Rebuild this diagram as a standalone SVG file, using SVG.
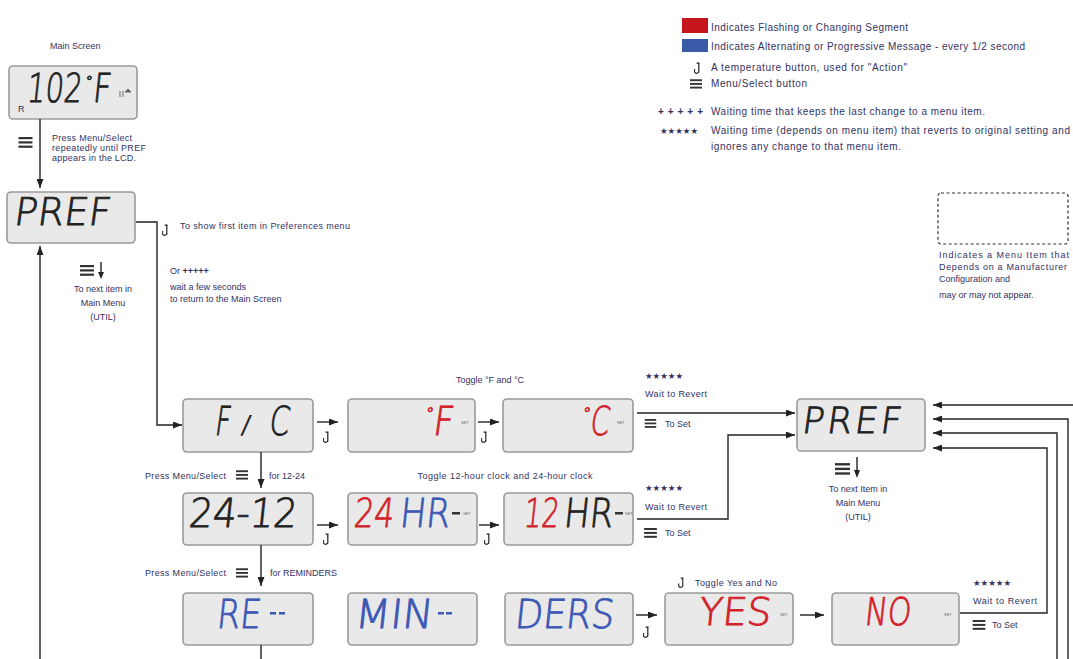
<svg xmlns="http://www.w3.org/2000/svg" width="1073" height="659" viewBox="0 0 1073 659">
<style>
.lcd{fill:#e9e9ea;stroke:#9a9a9a;stroke-width:1.6}
.sg{font-family:"DejaVu Sans",sans-serif;font-weight:200;stroke-width:0.9}
.k{fill:#222;stroke:#222}.r{fill:#d3232a;stroke:#d3232a}.b{fill:#3c58b5;stroke:#3c58b5}
.lb{font-family:"Liberation Sans",Arial,sans-serif;font-size:9px;fill:#33325f}
.lg{font-family:"Liberation Sans",Arial,sans-serif;font-size:10px;fill:#33325f}
.st{font-family:"DejaVu Sans",sans-serif;font-size:8.5px;fill:#33325f}
.ln{fill:none;stroke:#222;stroke-width:1.4}
.ar{marker-end:url(#ah)}
.tiny{font-family:"Liberation Sans",Arial,sans-serif;font-size:4px;fill:#666}
</style>
<defs>
<marker id="ah" markerUnits="userSpaceOnUse" markerWidth="9" markerHeight="7" refX="9" refY="3.5" orient="auto"><path d="M0,0 L9,3.5 L0,7 z" fill="#222"/></marker>
<symbol id="tb" viewBox="0 0 8 12"><path d="M2.6 1.2 H5.6 M4.8 1.2 V8.3 A2.3 2.3 0 1 1 1.1 7.2" fill="none" stroke="#222" stroke-width="1.2"/></symbol>
<symbol id="mn" viewBox="0 0 14 11"><rect x="0" y="0" width="14" height="2.2" fill="#333"/><rect x="0" y="4.3" width="14" height="2.2" fill="#333"/><rect x="0" y="8.6" width="14" height="2.2" fill="#333"/></symbol>
</defs>
<rect width="1073" height="659" fill="#fff"/>

<g id="legend">
<rect x="682" y="18" width="26" height="15" fill="#c4161c"/>
<text class="lg" x="711" y="31" textLength="197">Indicates Flashing or Changing Segment</text>
<rect x="682" y="39" width="26" height="13" fill="#3a5ba8"/>
<text class="lg" x="711" y="50" textLength="314">Indicates Alternating or Progressive Message - every 1/2 second</text>
<use href="#tb" x="694" y="62" width="8" height="12"/>
<text class="lg" x="711" y="71" textLength="196">A temperature button, used for "Action"</text>
<use href="#mn" x="690" y="79" width="12" height="10"/>
<text class="lg" x="711" y="87" textLength="96">Menu/Select button</text>
<text class="lg" x="658" y="115" font-weight="bold" textLength="45">+++++</text>
<text class="lg" x="711" y="115" textLength="274">Waiting time that keeps the last change to a menu item.</text>
<text class="st" x="660" y="134" font-size="9">★★★★★</text>
<text class="lg" x="711" y="134" textLength="359">Waiting time (depends on menu item) that reverts to original setting and</text>
<text class="lg" x="711" y="150" textLength="190">ignores any change to that menu item.</text>
</g>

<g id="optional-legend">
<rect x="938" y="193" width="130" height="51" rx="3" fill="none" stroke="#333" stroke-width="1.2" stroke-dasharray="3,2.5"/>
<text class="lb" x="939" y="258" textLength="130">Indicates a Menu Item that</text>
<text class="lb" x="939" y="270" textLength="128">Depends on a Manufacturer</text>
<text class="lb" x="939" y="282">Configuration and</text>
<text class="lb" x="939" y="298">may or may not appear.</text>
</g>

<g id="main-screen">
<text class="lb" x="50" y="49" font-size="8">Main Screen</text>
<rect class="lcd" x="9" y="66" width="128" height="53" rx="4"/>
<text class="sg k" transform="translate(26,102) skewX(-6)" font-size="40" textLength="55" lengthAdjust="spacingAndGlyphs">102</text>
<text class="sg k" transform="translate(85,86) skewX(-6)" font-size="14">°</text>
<text class="sg k" transform="translate(92,102) skewX(-6)" font-size="40" textLength="18" lengthAdjust="spacingAndGlyphs">F</text>
<text class="lb" x="18" y="112" font-size="6" fill="#333">R</text>
<path d="M120 91 v6 M123 91 v6 M125 92 l3 -3 l3 3 z" stroke="#666" stroke-width="1" fill="#666"/>
<use href="#mn" x="18" y="137" width="15" height="11"/>
<text class="lb" x="52" y="141" textLength="80">Press Menu/Select</text>
<text class="lb" x="52" y="151" textLength="94">repeatedly until PREF</text>
<text class="lb" x="52" y="161" textLength="84">appears in the LCD.</text>
</g>

<g id="pref-main">
<rect class="lcd" x="7" y="192" width="128" height="51" rx="4"/>
<text class="sg k" transform="translate(13,225) skewX(-8)" font-size="38" textLength="96" lengthAdjust="spacing">PREF</text>
<use href="#tb" x="162" y="224" width="8" height="12"/>
<text class="lb" x="180" y="229" textLength="170">To show first item in Preferences menu</text>
<text class="lb" x="170" y="274">Or <tspan font-weight="bold">+++++</tspan></text>
<text class="lb" x="170" y="290">wait  a few seconds</text>
<text class="lb" x="170" y="302">to return to the Main Screen</text>
<use href="#mn" x="80" y="265" width="14" height="11"/>
<path d="M101 262 V276" class="ln" stroke-width="1.2"/>
<path d="M98 272 L101 279 L104 272 z" fill="#222"/>
<text class="lb" x="103" y="292" text-anchor="middle">To next item in</text>
<text class="lb" x="103" y="306" text-anchor="middle">Main Menu</text>
<text class="lb" x="103" y="320" text-anchor="middle">(UTIL)</text>
</g>

<g id="fc">
<rect class="lcd" x="183" y="399" width="130" height="53" rx="4"/>
<text class="sg k" transform="translate(214,435) skewX(-8)" font-size="40" textLength="15" lengthAdjust="spacingAndGlyphs">F</text>
<text class="sg k" transform="translate(241,433) skewX(-8)" font-size="24">/</text>
<text class="sg k" transform="translate(268,435) skewX(-8)" font-size="40" textLength="20" lengthAdjust="spacingAndGlyphs">C</text>
</g>
<g id="deg-f">
<text class="lb" x="490" y="383" text-anchor="middle">Toggle °F and °C</text>
<rect class="lcd" x="348" y="399" width="127" height="53" rx="4"/>
<text class="sg r" transform="translate(425,419) skewX(-8)" font-size="16">°</text>
<text class="sg r" transform="translate(432,435) skewX(-8)" font-size="40" textLength="20" lengthAdjust="spacingAndGlyphs">F</text>
<text class="tiny" x="461" y="424">SET</text>
</g>
<g id="deg-c">
<rect class="lcd" x="503" y="399" width="130" height="53" rx="4"/>
<text class="sg r" transform="translate(582,419) skewX(-8)" font-size="16">°</text>
<text class="sg r" transform="translate(589,435) skewX(-8)" font-size="40" textLength="19" lengthAdjust="spacingAndGlyphs">C</text>
<text class="tiny" x="617" y="424">SET</text>
</g>
<g id="fc-notes">
<text class="st" x="645" y="379">★★★★★</text>
<text class="lb" x="645" y="397" textLength="62">Wait to Revert</text>
<use href="#mn" x="643" y="419" width="15" height="9"/>
<text class="lb" x="665" y="427">To Set</text>
</g>

<g id="pref-sub">
<rect class="lcd" x="797" y="399" width="128" height="52" rx="4"/>
<text class="sg k" transform="translate(801,433) skewX(-8)" font-size="36" textLength="99" lengthAdjust="spacing">PREF</text>
<use href="#mn" x="835" y="463" width="15" height="12"/>
<path d="M857 457 V472" class="ln" stroke-width="1.2"/>
<path d="M854 470 L857 478 L860 470 z" fill="#222"/>
<text class="lb" x="858" y="492" text-anchor="middle">To next Item in</text>
<text class="lb" x="858" y="506" text-anchor="middle">Main Menu</text>
<text class="lb" x="858" y="520" text-anchor="middle">(UTIL)</text>
</g>

<g id="row2-label">
<text class="lb" x="145" y="479" font-size="8" textLength="81">Press Menu/Select</text>
<use href="#mn" x="236" y="470" width="12" height="10"/>
<text class="lb" x="269" y="479" font-size="8">for 12-24</text>
<text class="lb" x="505" y="479" text-anchor="middle" textLength="175">Toggle 12-hour clock and 24-hour clock</text>
</g>
<g id="t2412">
<rect class="lcd" x="183" y="493" width="130" height="52" rx="4"/>
<text class="sg k" transform="translate(188,527) skewX(-6)" font-size="40" textLength="108" lengthAdjust="spacingAndGlyphs">24-12</text>
</g>
<g id="t24hr">
<rect class="lcd" x="348" y="493" width="129" height="52" rx="4"/>
<text class="sg r" transform="translate(353,527) skewX(-6)" font-size="40" textLength="40" lengthAdjust="spacingAndGlyphs">24</text>
<text class="sg b" transform="translate(399,527) skewX(-6)" font-size="40" textLength="50" lengthAdjust="spacingAndGlyphs">HR</text>
<rect x="452" y="512" width="8" height="2.5" fill="#333"/>
<text class="tiny" x="463" y="515">SET</text>
</g>
<g id="t12hr">
<rect class="lcd" x="504" y="493" width="129" height="52" rx="4"/>
<text class="sg r" transform="translate(523,527) skewX(-6)" font-size="40" textLength="35" lengthAdjust="spacingAndGlyphs">12</text>
<text class="sg k" transform="translate(563,527) skewX(-6)" font-size="40" textLength="49" lengthAdjust="spacingAndGlyphs">HR</text>
<rect x="615" y="512" width="8" height="2.5" fill="#333"/>
<text class="tiny" x="625" y="515">SET</text>
</g>
<g id="row2-notes">
<text class="st" x="645" y="491">★★★★★</text>
<text class="lb" x="645" y="510" textLength="62">Wait to Revert</text>
<use href="#mn" x="643" y="528" width="15" height="10"/>
<text class="lb" x="665" y="536">To Set</text>
</g>

<g id="row3-label">
<text class="lb" x="145" y="576" font-size="8" textLength="81">Press Menu/Select</text>
<use href="#mn" x="236" y="568" width="12" height="10"/>
<text class="lb" x="270" y="576" font-size="8">for REMINDERS</text>
</g>
<g id="re">
<rect class="lcd" x="183" y="593" width="130" height="52" rx="4"/>
<text class="sg b" transform="translate(216,628) skewX(-6)" font-size="40" textLength="44" lengthAdjust="spacingAndGlyphs">RE</text>
<rect x="270" y="612" width="6" height="2.5" fill="#3c58b5"/>
<rect x="279" y="612" width="6" height="2.5" fill="#3c58b5"/>
</g>
<g id="min">
<rect class="lcd" x="348" y="593" width="129" height="52" rx="4"/>
<text class="sg b" transform="translate(354,628) skewX(-6)" font-size="40" textLength="78" lengthAdjust="spacingAndGlyphs">MIN</text>
<rect x="438" y="612" width="6" height="2.5" fill="#3c58b5"/>
<rect x="446" y="612" width="6" height="2.5" fill="#3c58b5"/>
</g>
<g id="ders">
<rect class="lcd" x="505" y="593" width="128" height="52" rx="4"/>
<text class="sg b" transform="translate(514,628) skewX(-6)" font-size="40" textLength="99" lengthAdjust="spacingAndGlyphs">DERS</text>
</g>
<g id="yes">
<use href="#tb" x="678" y="577" width="8" height="11"/>
<text class="lb" x="695" y="586" font-size="8" textLength="82">Toggle Yes and No</text>
<rect class="lcd" x="665" y="593" width="128" height="52" rx="4"/>
<text class="sg r" transform="translate(698,625) skewX(-6)" font-size="38" textLength="72" lengthAdjust="spacingAndGlyphs">YES</text>
<text class="tiny" x="780" y="616">SET</text>
</g>
<g id="no">
<rect class="lcd" x="832" y="593" width="127" height="52" rx="4"/>
<text class="sg r" transform="translate(864,625) skewX(-6)" font-size="38" textLength="46" lengthAdjust="spacingAndGlyphs">NO</text>
<text class="tiny" x="944" y="616">SET</text>
</g>
<g id="row3-notes">
<text class="st" x="973" y="586">★★★★★</text>
<text class="lb" x="973" y="604" textLength="64">Wait to Revert</text>
<use href="#mn" x="972" y="620" width="14" height="10"/>
<text class="lb" x="992" y="628">To Set</text>
</g>

<g id="connectors">
<path class="ln ar" d="M40 119 V188"/>
<path class="ln ar" d="M40 659 V246"/>
<path class="ln ar" d="M136 222 H157 V425 H182"/>
<path class="ln ar" d="M317 422 H338"/>
<use href="#tb" x="323" y="431" width="8" height="12"/>
<path class="ln ar" d="M478 422 H499"/>
<use href="#tb" x="481" y="431" width="8" height="12"/>
<path class="ln ar" d="M637 413 H795"/>
<path class="ln ar" d="M261 452 V488"/>
<path class="ln ar" d="M317 525 H338"/>
<use href="#tb" x="323" y="533" width="8" height="12"/>
<path class="ln ar" d="M479 525 H499"/>
<use href="#tb" x="484" y="533" width="8" height="12"/>
<path class="ln ar" d="M637 519 H728 V435 H795"/>
<path class="ln ar" d="M261 545 V586"/>
<path class="ln" d="M261 645 V659"/>
<path class="ln ar" d="M636 615 H657"/>
<use href="#tb" x="643" y="626" width="8" height="12"/>
<path class="ln ar" d="M800 615 H824"/>
<path class="ln ar" d="M960 613 H1047 V448 H933"/>
<path class="ln ar" d="M1057 659 V433 H933"/>
<path class="ln ar" d="M1068 659 V419 H933"/>
<path class="ln ar" d="M1073 405 H933"/>
</g>
</svg>
